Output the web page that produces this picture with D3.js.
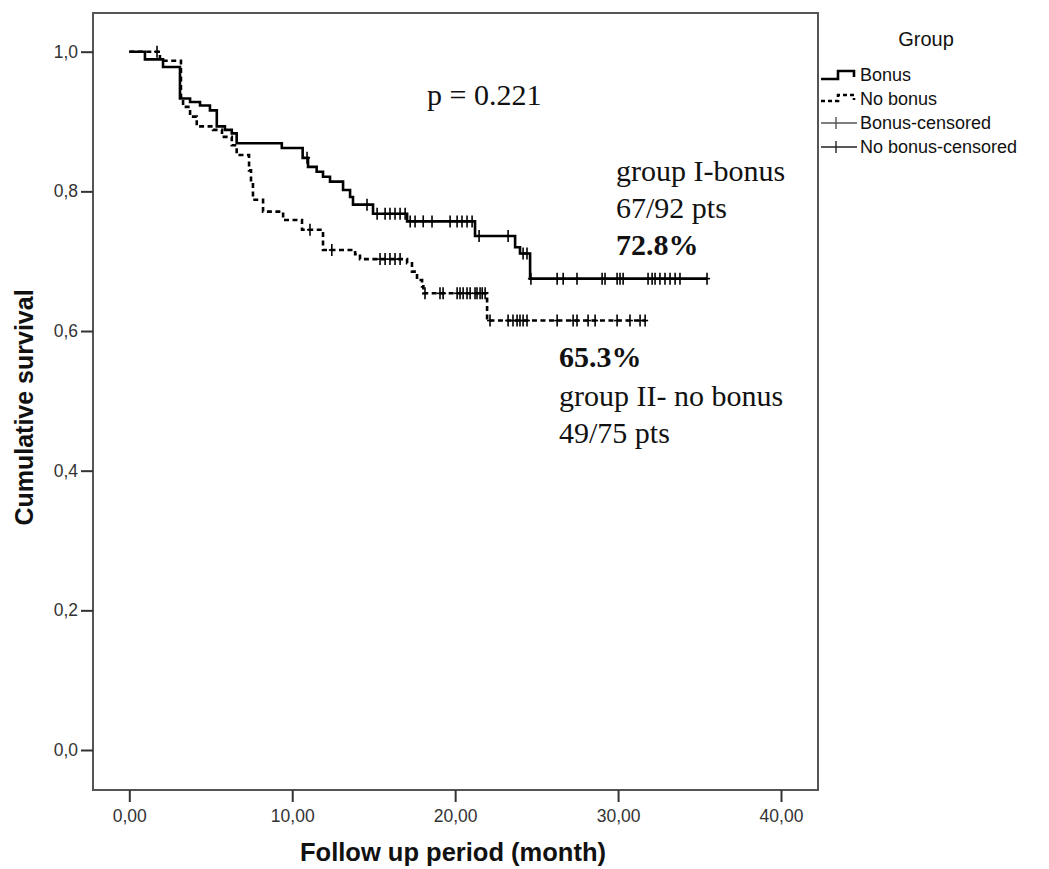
<!DOCTYPE html>
<html lang="en">
<head>
  <meta charset="UTF-8" />
  <title>Cumulative survival by group</title>
  <script src="https://d3js.org/d3.v7.min.js"></script>
  <style>
    body { margin: 0; background: #fff; }
    .tick-label { font-family: "Liberation Sans", Arial, sans-serif; font-size: 17.5px; fill: #333; }
    .axis-title { font-family: "Liberation Sans", Arial, sans-serif; font-weight: bold; fill: #111; }
    .note { font-family: "Liberation Serif", "Times New Roman", serif; font-size: 30px; fill: #111; }
    .legend-text { font-family: "Liberation Sans", Arial, sans-serif; font-size: 18px; fill: #111; }
  </style>
</head>
<body>
  <div id="chart"></div>

  <script>
    // Kaplan-Meier steps (time in months, cumulative survival)
    const bonusTimes = [0, 0.96, 2.07, 3.11, 3.73, 4.34, 4.95, 5.37, 5.87, 6.29, 6.59, 9.36, 10.64, 10.97,
      11.50, 11.89, 12.32, 13.12, 13.55, 13.73, 14.96, 17.05, 21.22, 23.68, 23.98, 24.60];
    const bonusSurv = [1.0, 0.989, 0.978, 0.933, 0.928, 0.923, 0.916, 0.893, 0.888, 0.883, 0.869, 0.862, 0.848, 0.835,
      0.828, 0.821, 0.814, 0.802, 0.792, 0.781, 0.768, 0.757, 0.736, 0.720, 0.711, 0.675];
    const bonusEnd = 35.46;
    const bonusCensored = [10.91, 14.59, 15.21, 15.70, 16.00, 16.31, 16.62, 16.93, 17.24, 17.54, 18.04, 18.58,
      19.69, 20.12, 20.42, 20.73, 21.04, 21.47, 23.25, 24.17, 24.41, 24.65, 26.26, 26.63, 27.48, 29.02, 29.20,
      29.94, 30.12, 30.31, 31.84, 32.09, 32.27, 32.57, 32.88, 33.19, 33.50, 33.80, 35.46];

    const noBonusTimes = [0, 1.88, 3.17, 3.30, 3.73, 4.14, 5.14, 5.69, 6.29, 6.59, 7.35, 7.47, 7.59, 8.21, 9.44,
      10.60, 11.89, 13.86, 14.16, 17.05, 17.35, 17.66, 17.97, 18.05, 21.96];
    const noBonusSurv = [1.0, 0.987, 0.935, 0.921, 0.907, 0.893, 0.888, 0.878, 0.866, 0.852, 0.830, 0.810, 0.788,
      0.771, 0.759, 0.745, 0.716, 0.710, 0.703, 0.697, 0.685, 0.673, 0.664, 0.654, 0.615];
    const noBonusEnd = 31.66;
    const noBonusCensored = [1.70, 11.09, 12.43, 15.39, 15.70, 16.00, 16.31, 16.62, 18.15, 19.07, 19.26, 20.12,
      20.30, 20.49, 20.73, 20.92, 21.22, 21.34, 21.53, 21.66, 21.84, 22.14, 23.25, 23.55, 23.80, 23.98, 24.17,
      24.41, 26.26, 27.24, 27.48, 28.16, 28.59, 29.94, 30.73, 31.35, 31.66];

    const xTicks = [0, 10, 20, 30, 40];
    const yTicks = [0, 0.2, 0.4, 0.6, 0.8, 1.0];
    const legendLabels = ["Bonus", "No bonus", "Bonus-censored", "No bonus-censored"];

    const width = 1049, height = 869;
    const frame = { left: 93, right: 818, top: 13, bottom: 790 };

    const svg = d3.select("#chart").append("svg")
      .attr("width", width)
      .attr("height", height);

    const x = d3.scaleLinear().domain([0, 40]).range([129.3, 781]);
    const y = d3.scaleLinear().domain([0, 1]).range([750, 51.7]);

    // frame
    svg.append("rect")
      .attr("x", frame.left).attr("y", frame.top)
      .attr("width", frame.right - frame.left)
      .attr("height", frame.bottom - frame.top)
      .attr("fill", "none").attr("stroke", "#555").attr("stroke-width", 2);

    // axes
    const xAxis = svg.append("g")
      .attr("transform", `translate(0,${frame.bottom})`)
      .call(d3.axisBottom(x).tickValues(xTicks).tickSize(12).tickPadding(8)
        .tickFormat(d => d3.format(".2f")(d).replace(".", ",")));
    const yAxis = svg.append("g")
      .attr("transform", `translate(${frame.left},0)`)
      .call(d3.axisLeft(y).tickValues(yTicks).tickSize(12).tickPadding(3)
        .tickFormat(d => d3.format(".1f")(d).replace(".", ",")));
    [xAxis, yAxis].forEach(a => {
      a.select(".domain").remove();
      a.selectAll(".tick line").attr("stroke", "#333").attr("stroke-width", 2);
      a.selectAll(".tick text").attr("class", "tick-label").attr("fill", null);
    });

    svg.append("text").attr("class", "axis-title")
      .attr("x", 453).attr("y", 861)
      .attr("text-anchor", "middle")
      .style("font-size", "25.5px")
      .text("Follow up period (month)");
    svg.append("text").attr("class", "axis-title")
      .attr("transform", `translate(33,${(frame.top + frame.bottom) / 2 + 6}) rotate(-90)`)
      .attr("text-anchor", "middle")
      .style("font-size", "25px")
      .text("Cumulative survival");

    // survival curves
    function stepValue(times, surv, t) {
      let i = d3.bisectRight(times, t) - 1;
      return surv[Math.max(0, i)];
    }
    const line = d3.line().x(d => x(d[0])).y(d => y(d[1])).curve(d3.curveStepAfter);

    function drawGroup(times, surv, end, censored, dash) {
      const pts = times.map((t, i) => [t, surv[i]]);
      pts.push([end, surv[surv.length - 1]]);
      svg.append("path")
        .datum(pts)
        .attr("d", line)
        .attr("fill", "none")
        .attr("stroke", "#000")
        .attr("stroke-width", 2.6)
        .attr("stroke-dasharray", dash);

      const g = svg.append("g").attr("stroke", "#000").attr("stroke-width", 1.6);
      g.selectAll("line.v").data(censored).enter().append("line")
        .attr("x1", d => x(d)).attr("x2", d => x(d))
        .attr("y1", d => y(stepValue(times, surv, d)) - 6)
        .attr("y2", d => y(stepValue(times, surv, d)) + 6);
      g.selectAll("line.h").data(censored).enter().append("line")
        .attr("x1", d => x(d) - 3).attr("x2", d => x(d) + 3)
        .attr("y1", d => y(stepValue(times, surv, d)))
        .attr("y2", d => y(stepValue(times, surv, d)));
    }
    drawGroup(noBonusTimes, noBonusSurv, noBonusEnd, noBonusCensored, "5,3.5");
    drawGroup(bonusTimes, bonusSurv, bonusEnd, bonusCensored, null);

    // annotations
    const notes = [
      { text: "p = 0.221", x: 427, y: 105, bold: false },
      { text: "group I-bonus", x: 616, y: 181, bold: false },
      { text: "67/92 pts", x: 616, y: 218, bold: false },
      { text: "72.8%", x: 616, y: 255, bold: true },
      { text: "65.3%", x: 559, y: 367, bold: true },
      { text: "group II- no bonus", x: 559, y: 406, bold: false },
      { text: "49/75 pts", x: 559, y: 443, bold: false }
    ];
    svg.selectAll("text.note").data(notes).enter().append("text")
      .attr("class", "note")
      .attr("x", d => d.x).attr("y", d => d.y)
      .attr("font-weight", d => d.bold ? "bold" : null)
      .text(d => d.text);

    // legend
    const lg = svg.append("g").attr("transform", "translate(821,0)");
    lg.append("text").attr("class", "legend-text")
      .attr("x", 105).attr("y", 46).attr("text-anchor", "middle")
      .style("font-size", "20px")
      .text("Group");
    const rowY = [75, 99, 123, 147];
    lg.append("path")
      .attr("d", `M0,${rowY[0] + 4}H17V${rowY[0] - 4}H33V${rowY[0] + 2}`)
      .attr("fill", "none").attr("stroke", "#000").attr("stroke-width", 2.6);
    lg.append("path")
      .attr("d", `M0,${rowY[1] + 2}H17V${rowY[1] - 4}H33V${rowY[1] + 1}`)
      .attr("fill", "none").attr("stroke", "#000").attr("stroke-width", 2.6)
      .attr("stroke-dasharray", "4,3");
    [2, 3].forEach(i => {
      lg.append("line").attr("x1", 0).attr("x2", 36).attr("y1", rowY[i]).attr("y2", rowY[i])
        .attr("stroke", i === 2 ? "#555" : "#222").attr("stroke-width", 1.4);
      lg.append("line").attr("x1", 15).attr("x2", 15).attr("y1", rowY[i] - 6).attr("y2", rowY[i] + 6)
        .attr("stroke", i === 2 ? "#555" : "#222").attr("stroke-width", 1.4);
    });
    lg.selectAll("text.item").data(legendLabels).enter().append("text")
      .attr("class", "legend-text")
      .attr("x", 39).attr("y", (d, i) => rowY[i] + 6)
      .text(d => d);
  </script>
</body>
</html>
